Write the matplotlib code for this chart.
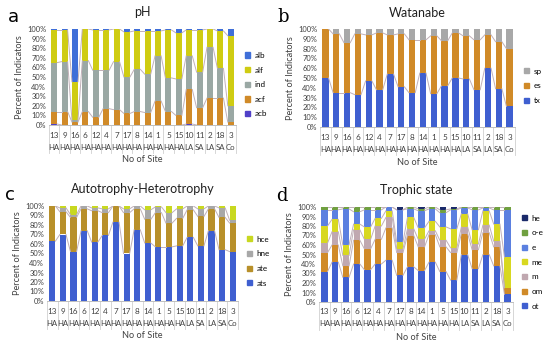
import matplotlib.pyplot as plt
from matplotlib.patches import Patch

plt.rcParams['font.family'] = ['Lato', 'DejaVu Sans']

# Sites and their class, left to right
sites = ['13', '9', '16', '6', '12', '4', '7', '17', '8', '14', '1', '5', '15', '10', '11', '2', '18', '3']
site_class = ['HA', 'HA', 'HA', 'HA', 'HA', 'HA', 'HA', 'HA', 'HA', 'HA', 'HA', 'HA', 'HA', 'LA', 'SA', 'LA', 'SA', 'Co']

# Panel a - pH (percent of indicators, bottom to top)
ph_acb = [1, 0, 0, 0, 0, 0, 0, 0, 0, 0, 0, 0, 0, 1, 0, 0, 0, 0]
ph_acf = [13, 14, 3, 14, 8, 17, 16, 12, 14, 13, 25, 14, 10, 36, 18, 28, 28, 3]
ph_ind = [51, 52, 2, 53, 49, 40, 50, 38, 44, 40, 47, 35, 38, 35, 37, 53, 31, 17]
ph_alf = [34, 33, 40, 33, 42, 42, 34, 47, 40, 45, 26, 50, 48, 27, 44, 19, 39, 73]
ph_alb = [1, 1, 55, 0, 1, 1, 0, 3, 2, 2, 2, 1, 4, 1, 1, 0, 2, 7]

# Panel b - Watanabe
wt_tx = [50, 35, 35, 33, 47, 38, 54, 41, 35, 55, 34, 42, 50, 49, 38, 60, 39, 21]
wt_es = [50, 60, 51, 62, 47, 58, 40, 54, 54, 34, 59, 46, 46, 44, 51, 34, 48, 59]
wt_sp = [0, 5, 14, 5, 6, 4, 6, 5, 11, 11, 7, 12, 4, 7, 11, 6, 13, 20]

# Panel c - Autotrophy-Heterotrophy
ah_ats = [63, 70, 52, 74, 62, 69, 83, 50, 75, 61, 57, 57, 58, 67, 58, 74, 54, 52]
ah_ate = [37, 24, 36, 23, 33, 24, 17, 43, 22, 25, 36, 25, 29, 29, 31, 23, 34, 30]
ah_hne = [0, 4, 3, 3, 3, 4, 0, 4, 3, 10, 6, 11, 10, 4, 8, 3, 10, 3]
ah_hce = [0, 2, 9, 0, 2, 3, 0, 3, 0, 4, 1, 7, 3, 0, 3, 0, 2, 15]

# Panel d - Trophic state
tr_ot = [32, 42, 26, 40, 34, 40, 44, 28, 37, 33, 42, 32, 23, 50, 35, 50, 38, 8]
tr_om = [20, 18, 12, 25, 22, 26, 34, 24, 33, 25, 29, 26, 29, 22, 20, 23, 20, 7]
tr_m = [10, 14, 11, 11, 10, 14, 11, 4, 7, 8, 4, 7, 5, 7, 6, 8, 6, 0]
tr_me = [18, 13, 11, 6, 13, 8, 7, 7, 12, 12, 10, 14, 20, 14, 15, 15, 18, 32]
tr_e = [17, 10, 38, 13, 18, 9, 4, 34, 9, 18, 13, 15, 20, 6, 21, 3, 15, 50]
tr_oe = [3, 3, 2, 5, 3, 3, 0, 0, 2, 2, 2, 3, 1, 1, 3, 1, 3, 3]
tr_he = [0, 0, 0, 0, 0, 0, 0, 3, 0, 2, 0, 3, 2, 0, 0, 0, 0, 0]

W, H = 550, 348
fig = plt.figure(figsize=(5.5, 3.48), dpi=100)
fig.patch.set_facecolor('white')


def px_axes(x0, y0, x1, y1):
    return fig.add_axes([x0 / W, 1 - y1 / H, (x1 - x0) / W, (y1 - y0) / H])


def stacked_panel(box, series, labels, colors, title, letter, letter_font):
    ax = px_axes(*box)
    n = len(sites)
    x = list(range(n))
    bw = 0.58
    bottom = [0] * n
    tops = []
    for vals, lab, col in zip(series, labels, colors):
        ax.bar(x, vals, bw, bottom=bottom, color=col, label=lab, zorder=2)
        bottom = [b + v for b, v in zip(bottom, vals)]
        tops.append(list(bottom))
    # series lines between neighbouring bars
    for t in tops[:-1]:
        for i in range(n - 1):
            ax.plot([i + bw / 2, i + 1 - bw / 2], [t[i], t[i + 1]],
                    color='#c0b0b8', lw=0.7, zorder=3)
    ax.set_xlim(-0.5, n - 0.5)
    ax.set_ylim(0, 100)
    ax.set_yticks(range(0, 101, 10))
    ax.set_yticklabels([f'{v}%' for v in range(0, 101, 10)], fontsize=5.4, color='#404040')
    ax.tick_params(axis='y', length=0, pad=2)
    ax.set_xticks([])
    for s in ['top', 'right', 'left']:
        ax.spines[s].set_visible(False)
    ax.spines['bottom'].set_color('#bfbfbf')
    ax.spines['bottom'].set_linewidth(0.7)
    hpx = box[3] - box[1]
    # two-level category axis
    for i in range(n):
        ax.text(i, -10 / hpx * 100, sites[i], ha='center', va='center', fontsize=5.9, color='#404040')
        ax.text(i, -22 / hpx * 100, site_class[i], ha='center', va='center', fontsize=5.6, color='#404040')
    for i in range(n + 1):
        ax.plot([i - 0.5, i - 0.5], [0, -28 / hpx * 100], color='#d0d0d0', lw=0.6, clip_on=False)
    ax.text((n - 1) / 2, -35 / hpx * 100, 'No of Site', ha='center', va='center', fontsize=6.6, color='#404040')
    ax.set_ylabel('Percent of Indicators', fontsize=6.6, color='#404040', labelpad=2)
    ax.set_title(title, fontsize=9, pad=9, color='#202020')
    ax.text(-0.22, 1.12, letter, transform=ax.transAxes, fontsize=13, family=letter_font,
            ha='left', va='center')
    handles = [Patch(color=c, label=l) for l, c in zip(labels, colors)][::-1]
    ax.legend(handles=handles, loc='center left', bbox_to_anchor=(1.03, 0.42), frameon=False,
              fontsize=5.8, handlelength=0.6, handleheight=0.6, labelspacing=0.95,
              handletextpad=0.6, borderaxespad=0)
    return ax


stacked_panel((49, 29, 236, 125),
              [ph_acb, ph_acf, ph_ind, ph_alf, ph_alb],
              ['acb', 'acf', 'ind', 'alf', 'alb'],
              ['#5040c8', '#d08a28', '#9aa8a4', '#cfcc12', '#3f6fd8'],
              'pH', 'a', 'DejaVu Sans')

stacked_panel((320, 29, 515, 127),
              [wt_tx, wt_es, wt_sp],
              ['tx', 'es', 'sp'],
              ['#3f5fd0', '#d08a28', '#a8a8a8'],
              'Watanabe', 'b', 'DejaVu Serif')

stacked_panel((47, 206, 238, 301),
              [ah_ats, ah_ate, ah_hne, ah_hce],
              ['ats', 'ate', 'hne', 'hce'],
              ['#3f5fd0', '#b8902a', '#a8a8a8', '#c8d820'],
              'Autotrophy-Heterotrophy', 'c', 'DejaVu Sans')

stacked_panel((319, 207, 513, 302),
              [tr_ot, tr_om, tr_m, tr_me, tr_e, tr_oe, tr_he],
              ['ot', 'om', 'm', 'me', 'e', 'o-e', 'he'],
              ['#3f5fd0', '#d08a28', '#c0a8b0', '#d8d820', '#5b80e0', '#70a040', '#1a2a6a'],
              'Trophic state', 'd', 'DejaVu Serif')

fig.savefig('out.png', dpi=100)
